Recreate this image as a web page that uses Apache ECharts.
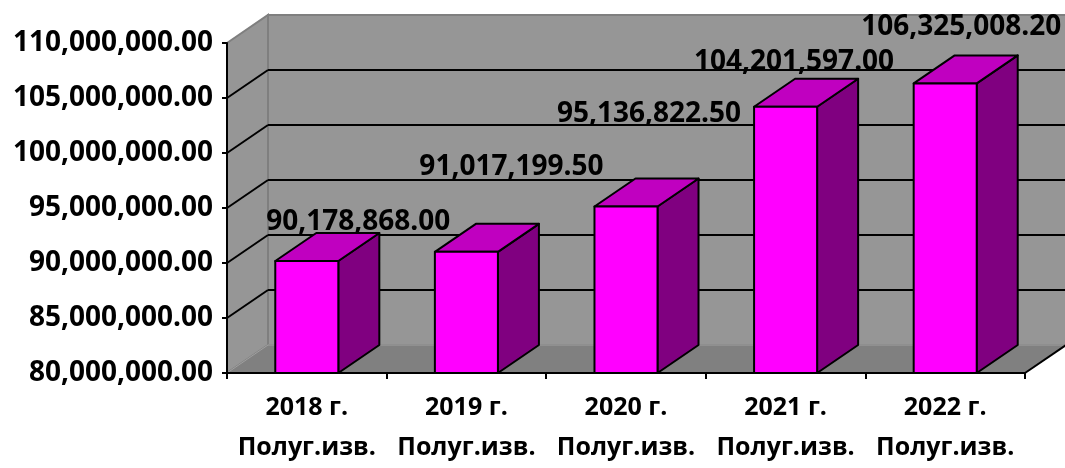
<!DOCTYPE html>
<html>
<head>
<meta charset="utf-8">
<script src="https://cdn.jsdelivr.net/npm/echarts@6/dist/echarts.min.js"></script>
<style>html,body{margin:0;padding:0;background:#fff;}#main{width:1065px;height:468px;}</style>
</head>
<body>
<div id="main"></div>
<script>
const categories = ['2018 г.', '2019 г.', '2020 г.', '2021 г.', '2022 г.'];
const subLabel = 'Полуг.изв.';
const values = [90178868.00, 91017199.50, 95136822.50, 104201597.00, 106325008.20];
const yMin = 80000000, yMax = 110000000, yStep = 5000000;

const FONT = '"Open Sans", sans-serif';
const DX = 41, DY = -28;
const BAR_RATIO = 0.395;
const LABEL_DX = [51.5, 45, 23, 8.5, 16];
const LABEL_DY = [-39, -85, -92, -45, -56];

function fmt(v) {
  const neg = v < 0; v = Math.abs(v);
  const fixed = v.toFixed(2);
  let [ip, dp] = fixed.split('.');
  ip = ip.replace(/\B(?=(\d{3})+(?!\d))/g, ',');
  return (neg ? '-' : '') + ip + '.' + dp;
}

const chart = echarts.init(document.getElementById('main'), null, {renderer: 'canvas'});

function renderWalls(params, api) {
  const cs = params.coordSys;
  const gx = cs.x, gy = cs.y, gw = cs.width, gh = cs.height;
  const children = [];
  children.push({type: 'rect', shape: {x: gx + DX, y: gy + DY, width: gw, height: gh},
    style: {fill: '#969696', stroke: '#7f7f7f', lineWidth: 2}});
  children.push({type: 'polygon', shape: {points: [[gx, gy], [gx + DX, gy + DY], [gx + DX, gy + gh + DY], [gx, gy + gh]]},
    style: {fill: '#969696', stroke: '#7f7f7f', lineWidth: 2}});
  children.push({type: 'polygon', shape: {points: [[gx, gy + gh], [gx + DX, gy + gh + DY], [gx + gw + DX, gy + gh + DY], [gx + gw, gy + gh]]},
    style: {fill: '#808080', stroke: '#a0a0a0', lineWidth: 1}});
  children.push({type: 'line', shape: {x1: gx + gw, y1: gy + gh, x2: gx + gw + DX, y2: gy + gh + DY},
    style: {stroke: '#000', lineWidth: 2}});
  for (let t = yMin + yStep; t < yMax; t += yStep) {
    const y = api.coord([0, t])[1];
    children.push({type: 'line', shape: {x1: gx, y1: y, x2: gx + DX, y2: y + DY}, style: {stroke: '#000', lineWidth: 2}});
    children.push({type: 'line', shape: {x1: gx + DX, y1: y + DY, x2: gx + gw + DX, y2: y + DY}, style: {stroke: '#000', lineWidth: 2}});
  }
  return {type: 'group', children: children};
}

function renderBar(params, api) {
  const idx = api.value(0);
  const val = api.value(1);
  const top = api.coord([idx, val]);
  const base = api.coord([idx, yMin]);
  const bw = api.size([1, 0])[0] * BAR_RATIO;
  const x = top[0] - bw / 2, y = top[1], b = base[1];
  const stroke = {stroke: '#000', lineWidth: 2, lineJoin: 'round'};
  return {type: 'group', children: [
    {type: 'polygon', shape: {points: [[x + bw, y], [x + bw + DX, y + DY], [x + bw + DX, b + DY], [x + bw, b]]},
      style: Object.assign({fill: '#800080'}, stroke)},
    {type: 'polygon', shape: {points: [[x, y], [x + DX, y + DY], [x + bw + DX, y + DY], [x + bw, y]]},
      style: Object.assign({fill: '#c000c0'}, stroke)},
    {type: 'rect', shape: {x: x, y: y, width: bw, height: b - y},
      style: Object.assign({fill: '#ff00ff'}, stroke)}
  ]};
}

function renderLabel(params, api) {
  const idx = api.value(0);
  const val = api.value(1);
  const top = api.coord([idx, val]);
  return {type: 'text', x: top[0] + LABEL_DX[idx], y: top[1] + LABEL_DY[idx],
    style: {text: fmt(val), fill: '#000', font: 'bold 28px ' + FONT, align: 'center', verticalAlign: 'middle'}};
}

const barData = values.map((v, i) => [i, v]);

chart.setOption({
  animation: false,
  backgroundColor: '#fff',
  grid: {left: 227, top: 43, width: 798, height: 335, containLabel: false},
  xAxis: {
    type: 'category', data: categories, boundaryGap: true, z: 5,
    axisLine: {show: true, lineStyle: {color: '#000', width: 2}},
    axisTick: {show: true, length: 6, interval: 0, lineStyle: {color: '#000', width: 2}},
    axisLabel: {interval: 0, hideOverlap: false, color: '#000', fontFamily: FONT, fontWeight: 'bold', fontSize: 25, lineHeight: 40, margin: 15,
      formatter: v => v + '\n' + subLabel},
    splitLine: {show: false}
  },
  yAxis: {
    type: 'value', min: yMin, max: yMax, interval: yStep, z: 5,
    axisLine: {show: true, lineStyle: {color: '#000', width: 2}},
    axisTick: {show: true, length: 5, lineStyle: {color: '#000', width: 2}},
    axisLabel: {color: '#000', fontFamily: FONT, fontWeight: 'bold', fontSize: 28, margin: 14, formatter: v => fmt(v)},
    splitLine: {show: false}
  },
  series: [
    {type: 'custom', name: 'walls', z: 1, silent: true, data: [[0, yMin]], renderItem: renderWalls},
    {type: 'custom', name: 'bars', z: 2, data: barData, renderItem: renderBar},
    {type: 'custom', name: 'labels', z: 6, silent: true, data: barData, renderItem: renderLabel}
  ]
});
</script>
</body>
</html>
